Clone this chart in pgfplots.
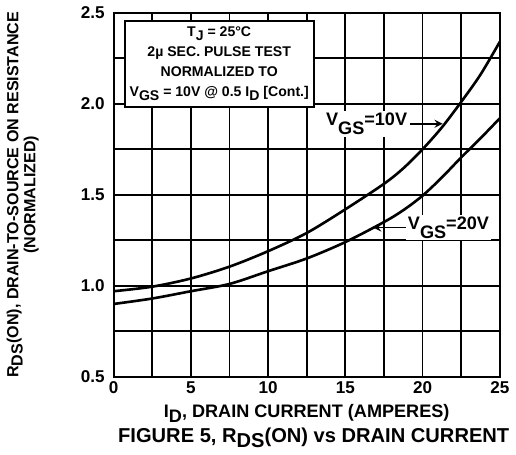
\documentclass[border=0pt]{standalone}
\usepackage{pgfplots}
\pgfplotsset{compat=1.18}
\usepackage{fontspec}
\setmainfont{Liberation Sans}
\newcommand\sub[1]{\raisebox{-0.5ex}{#1}}
\newcommand\subb[1]{\raisebox{-0.9ex}{#1}}
\begin{document}
\begin{tikzpicture}
\begin{axis}[
  scale only axis,
  width=192pt, height=181pt,
  xmin=0, xmax=25, ymin=0.5, ymax=2.5,
  xtick={0,5,...,25},
  ytick={0.5,1.0,1.5,2.0,2.5},
  minor x tick num=1, minor y tick num=1,
  grid=both,
  major grid style={black, line width=0.9pt},
  minor grid style={black, line width=0.9pt},
  axis line style={line width=1.1pt},
  major tick length=0pt, minor tick length=0pt,
  tick label style={font=\fontsize{8.5}{9}\selectfont\bfseries},
  /pgf/number format/assume math mode=true,
  yticklabel style={/pgf/number format/fixed, /pgf/number format/precision=1, /pgf/number format/fixed zerofill, xshift=-1pt},
  xticklabel style={yshift=1pt},
  xlabel={\fontsize{9}{10}\selectfont I\sub{D}, DRAIN CURRENT (AMPERES)\\[0pt]\hspace*{7pt}\fontsize{10}{11}\selectfont FIGURE 5, R\sub{DS}(ON) vs DRAIN CURRENT},
  xlabel style={align=center, font=\bfseries, yshift=1.5pt},
  ylabel={R\sub{DS}(ON), DRAIN-TO-SOURCE ON RESISTANCE\\(NORMALIZED)},
  ylabel style={align=center, font=\fontsize{8}{8.5}\selectfont\bfseries, yshift=14pt},
  clip=false,
]
\addplot[black, line width=1.3pt, smooth] coordinates {
 (0,0.97)(2.5,0.995)(5,1.04)(7.5,1.105)(10,1.19)(12.5,1.29)(15,1.42)(17.5,1.56)(18.75,1.645)(20,1.75)(21.25,1.87)(22.5,2.01)(23.75,2.16)(25,2.34)};
\addplot[black, line width=1.3pt, smooth] coordinates {
 (0,0.90)(2.5,0.93)(5,0.97)(7.5,1.01)(10,1.08)(12.5,1.15)(15,1.24)(17.5,1.35)(18.75,1.415)(20,1.495)(21.25,1.595)(22.5,1.705)(23.75,1.81)(25,1.92)};
\node[draw, fill=white, line width=1pt, align=center, anchor=north west,
  font=\fontsize{7}{10}\selectfont\bfseries, inner sep=1.5pt, minimum width=94pt, minimum height=42.5pt]
  at (axis cs:0.65,2.46) {T\sub{J} = 25°C\\2µ SEC. PULSE TEST\\NORMALIZED TO\\V\sub{GS} = 10V @ 0.5 I\sub{D} [Cont.]};
\node[fill=white, anchor=west, font=\fontsize{9}{9}\selectfont\bfseries, inner sep=1pt] (a) at (axis cs:13.6,1.89) {V\subb{GS}=10V};
\draw[-stealth, line width=0.8pt] (a.east) -- (axis cs:21.3,1.89);
\node[fill=white, anchor=west, font=\fontsize{9}{9}\selectfont\bfseries, inner sep=1pt] (b) at (axis cs:18.9,1.32) {V\subb{GS}=20V};
\draw[-stealth, line width=0.8pt] (b.west) -- (axis cs:16.8,1.32);
\end{axis}
\end{tikzpicture}
\end{document}
